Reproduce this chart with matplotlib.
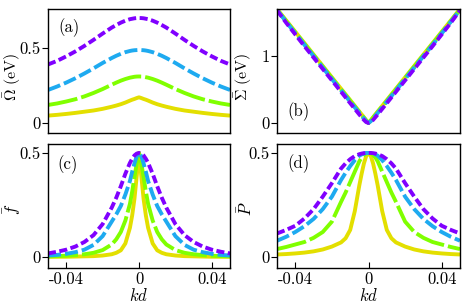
import numpy as np
import matplotlib
matplotlib.use('Agg')
import matplotlib.pyplot as plt

plt.rcParams['font.family'] = 'serif'
plt.rcParams['font.serif'] = ['cmr10', 'DejaVu Serif']
plt.rcParams['mathtext.fontset'] = 'cm'
plt.rcParams['axes.unicode_minus'] = False
plt.rcParams['lines.scale_dashes'] = False

# half grid in kd (curves are symmetric about kd = 0)
k_half = [0, 0.00125, 0.0025, 0.00375, 0.005, 0.0075, 0.01, 0.0125, 0.015,
          0.02, 0.025, 0.03, 0.035, 0.04, 0.045, 0.05]

# (a) Omega bar (eV)
omega_purple = [0.700, 0.6995, 0.698, 0.695, 0.692, 0.682, 0.669, 0.653, 0.636,
                0.596, 0.554, 0.514, 0.477, 0.444, 0.414, 0.390]
omega_blue = [0.487, 0.486, 0.485, 0.483, 0.480, 0.472, 0.461, 0.448, 0.433,
              0.400, 0.364, 0.330, 0.298, 0.269, 0.243, 0.220]
omega_green = [0.310, 0.3095, 0.308, 0.305, 0.302, 0.293, 0.282, 0.269, 0.255,
               0.226, 0.200, 0.177, 0.158, 0.143, 0.130, 0.120]
omega_yellow = [0.171, 0.166, 0.160, 0.155, 0.149, 0.136, 0.125, 0.116, 0.108,
                0.094, 0.083, 0.075, 0.067, 0.060, 0.054, 0.049]

# (b) Sigma bar (eV)
sigma_purple = [0, 0.012, 0.045, 0.085, 0.125, 0.21, 0.295, 0.38, 0.465,
                0.635, 0.805, 0.975, 1.145, 1.32, 1.495, 1.68]
sigma_blue = [0, 0.025, 0.065, 0.105, 0.148, 0.232, 0.316, 0.40, 0.485,
              0.655, 0.825, 0.995, 1.165, 1.335, 1.51, 1.685]
sigma_green = [0, 0.035, 0.078, 0.12, 0.162, 0.246, 0.33, 0.415, 0.50,
               0.67, 0.84, 1.01, 1.18, 1.35, 1.52, 1.69]
sigma_yellow = [0, 0.04, 0.085, 0.127, 0.17, 0.255, 0.34, 0.425, 0.51,
                0.68, 0.85, 1.02, 1.19, 1.36, 1.53, 1.70]

# (c) f bar
f_purple = [0.5, 0.497, 0.488, 0.472, 0.452, 0.40, 0.34, 0.285, 0.237,
            0.158, 0.105, 0.072, 0.05, 0.035, 0.025, 0.017]
f_blue = [0.5, 0.485, 0.45, 0.41, 0.365, 0.30, 0.245, 0.205, 0.17,
          0.10, 0.058, 0.035, 0.023, 0.015, 0.01, 0.007]
f_green = [0.5, 0.45, 0.385, 0.315, 0.255, 0.175, 0.12, 0.085, 0.06,
           0.033, 0.02, 0.013, 0.009, 0.006, 0.004, 0.003]
f_yellow = [0.5, 0.39, 0.28, 0.20, 0.14, 0.065, 0.032, 0.02, 0.013,
            0.007, 0.004, 0.003, 0.002, 0.001, 0.001, 0.001]

# (d) P bar
p_purple = [0.5, 0.5, 0.499, 0.497, 0.494, 0.485, 0.47, 0.45, 0.425,
            0.355, 0.29, 0.23, 0.185, 0.15, 0.13, 0.113]
p_blue = [0.5, 0.5, 0.497, 0.493, 0.487, 0.465, 0.437, 0.405, 0.37,
          0.29, 0.23, 0.183, 0.148, 0.12, 0.097, 0.078]
p_green = [0.5, 0.498, 0.49, 0.478, 0.46, 0.41, 0.36, 0.31, 0.265,
           0.17, 0.12, 0.092, 0.072, 0.06, 0.048, 0.038]
p_yellow = [0.5, 0.485, 0.45, 0.40, 0.345, 0.22, 0.13, 0.09, 0.07,
            0.05, 0.036, 0.027, 0.021, 0.017, 0.014, 0.012]

colors = ['#e3df00', '#80ff00', '#1eaaf0', '#8000ff']  # yellow, green, blue, purple
dashes = [None, (21.6, 2.9), (9.4, 2.9), (5.8, 2.5)]


def mirror(vals):
    v = np.asarray(vals, dtype=float)
    return np.concatenate([v[:0:-1], v])


k = np.concatenate([-np.asarray(k_half)[:0:-1], np.asarray(k_half)])

fig = plt.figure(figsize=(4.63, 3.06), dpi=100)
ax_a = fig.add_axes([0.1037, 0.5654, 0.3931, 0.4052])
ax_b = fig.add_axes([0.5983, 0.5654, 0.3952, 0.4052])
ax_c = fig.add_axes([0.1037, 0.1242, 0.3931, 0.4052])
ax_d = fig.add_axes([0.5983, 0.1242, 0.3952, 0.4052])

panels = [
    (ax_a, [omega_yellow, omega_green, omega_blue, omega_purple]),
    (ax_b, [sigma_yellow, sigma_green, sigma_blue, sigma_purple]),
    (ax_c, [f_yellow, f_green, f_blue, f_purple]),
    (ax_d, [p_yellow, p_green, p_blue, p_purple]),
]

for ax, series in panels:
    for vals, c, d in zip(series, colors, dashes):
        line, = ax.plot(k, mirror(vals), color=c, lw=2.8, solid_capstyle='butt')
        if d is not None:
            line.set_dashes(d)
    ax.set_xlim(-0.05, 0.05)
    for s in ax.spines.values():
        s.set_linewidth(1.0)
    ax.tick_params(axis='y', direction='out', length=4, width=0.8,
                   labelsize=12, pad=1)
    ax.tick_params(axis='x', direction='in', length=4, width=0.8,
                   labelsize=12, pad=3)

ax_a.set_ylim(-0.067, 0.76)
ax_b.set_ylim(-0.15, 1.70)
ax_c.set_ylim(-0.053, 0.543)
ax_d.set_ylim(-0.053, 0.543)

ax_a.set_yticks([0, 0.5], ['0', '0.5'])
ax_b.set_yticks([0, 1], ['0', '1'])
ax_c.set_yticks([0, 0.5], ['0', '0.5'])
ax_d.set_yticks([0, 0.5], ['0', '0.5'])

for ax in (ax_a, ax_b):
    ax.set_xticks([])
for ax in (ax_c, ax_d):
    ax.set_xticks([-0.04, 0, 0.04], ['-0.04', '0', '0.04'])
    ax.set_xlabel(r'$kd$', fontsize=12)
    ax.xaxis.set_label_coords(0.5, -0.15)

ax_a.set_ylabel(r'$\bar{\Omega}\ (\mathrm{eV})$', fontsize=11.5)
ax_a.yaxis.set_label_coords(-0.135, 0.45)
ax_b.set_ylabel(r'$\bar{\Sigma}\ (\mathrm{eV})$', fontsize=11.5)
ax_b.yaxis.set_label_coords(-0.125, 0.45)
ax_c.set_ylabel(r'$\bar{f}$', fontsize=12)
ax_c.yaxis.set_label_coords(-0.14, 0.47)
ax_d.set_ylabel(r'$\bar{P}$', fontsize=12)
ax_d.yaxis.set_label_coords(-0.12, 0.48)

ax_a.text(0.115, 0.85, '(a)', transform=ax_a.transAxes, ha='center', va='center', fontsize=12)
ax_b.text(0.117, 0.173, '(b)', transform=ax_b.transAxes, ha='center', va='center', fontsize=12)
ax_c.text(0.11, 0.83, '(c)', transform=ax_c.transAxes, ha='center', va='center', fontsize=12)
ax_d.text(0.117, 0.843, '(d)', transform=ax_d.transAxes, ha='center', va='center', fontsize=12)

fig.savefig('out.png', dpi=100)
